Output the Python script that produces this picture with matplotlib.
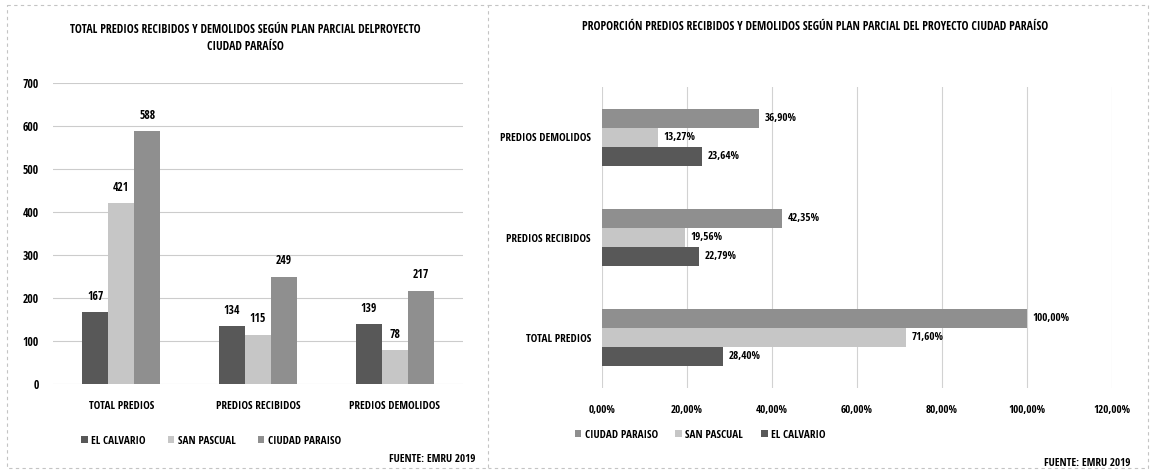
import numpy as np
import matplotlib.pyplot as plt
from matplotlib.lines import Line2D

plt.rcParams['font.family'] = ['Open Sans Condensed', 'Roboto Condensed', 'Lato', 'DejaVu Sans']
plt.rcParams['font.weight'] = 'heavy'

# Datos EMRU 2019
categorias = ['TOTAL PREDIOS', 'PREDIOS RECIBIDOS', 'PREDIOS DEMOLIDOS']
series = ['EL CALVARIO', 'SAN PASCUAL', 'CIUDAD PARAISO']
el_calvario = [167, 134, 139]
san_pascual = [421, 115, 78]
ciudad_paraiso = [588, 249, 217]

# Proporciones (%)
prop_el_calvario = [28.40, 22.79, 23.64]
prop_san_pascual = [71.60, 19.56, 13.27]
prop_ciudad_paraiso = [100.00, 42.35, 36.90]

colores = {'EL CALVARIO': '#585858', 'SAN PASCUAL': '#c6c6c6', 'CIUDAD PARAISO': '#8f8f8f'}

W, H = 1151, 472
fig = plt.figure(figsize=(W / 100, H / 100), dpi=100)
fig.patch.set_facecolor('white')

# marcos punteados de los dos graficos
for xs, ys in [([7, 488, 488, 7, 7], [5, 5, 468, 468, 5]),
               ([488, 1148, 1148, 488], [5, 5, 468, 468])]:
    fig.add_artist(Line2D(np.array(xs) / W, 1 - np.array(ys) / H, color='#c4c4c4',
                          lw=0.8, ls=(0, (3, 3)), transform=fig.transFigure))

# ---------- grafico de columnas ----------
ax1 = fig.add_axes([53 / W, 1 - 384 / H, 410 / W, 301 / H])
x = np.arange(len(categorias))
w = 0.19
for i, (nombre, vals) in enumerate(zip(series, [el_calvario, san_pascual, ciudad_paraiso])):
    b = ax1.bar(x + (i - 1) * w, vals, w, color=colores[nombre], label=nombre, zorder=3)
    for rect, v in zip(b, vals):
        ax1.text(rect.get_x() + rect.get_width() / 2, v + 22, str(v), ha='center',
                 va='bottom', fontsize=8.5)
ax1.set_ylim(0, 700)
ax1.set_xlim(-0.5, 2.5)
ax1.set_yticks(range(0, 701, 100))
ax1.set_xticks(x, categorias)
ax1.tick_params(length=0, labelsize=8)
ax1.tick_params(axis='y', pad=10, labelsize=8.5)
ax1.tick_params(axis='x', pad=12)
ax1.grid(axis='y', color='#cccccc', lw=0.8, zorder=0)
for s in ax1.spines.values():
    s.set_visible(False)
ax1.legend(loc='center', bbox_to_anchor=(211 / W, 1 - 441 / H), bbox_transform=fig.transFigure,
           ncol=3, frameon=False, fontsize=8, handlelength=0.6, handleheight=0.6,
           handletextpad=0.3, columnspacing=2.0)
fig.text(245 / W, 1 - 38 / H, 'TOTAL PREDIOS RECIBIDOS Y DEMOLIDOS SEGÚN PLAN PARCIAL DELPROYECTO\nCIUDAD PARAÍSO',
         ha='center', va='center', fontsize=8.5, linespacing=1.4)
fig.text(475 / W, 1 - 460 / H, 'FUENTE: EMRU 2019', ha='right', va='center', fontsize=8)

# ---------- grafico de barras horizontales ----------
ax2 = fig.add_axes([602 / W, 1 - 388 / H, 510 / W, 301 / H])
h = 0.19
for i, (nombre, vals) in enumerate(zip(series, [prop_el_calvario, prop_san_pascual, prop_ciudad_paraiso])):
    b = ax2.barh(x + (i - 1) * h, vals, h, color=colores[nombre], label=nombre, zorder=3)
    for rect, v in zip(b, vals):
        ax2.text(v + 1.3, rect.get_y() + rect.get_height() / 2,
                 f'{v:.2f}%'.replace('.', ','), ha='left', va='center', fontsize=8)
ax2.set_xlim(0, 120)
ax2.set_ylim(-0.5, 2.5)
ax2.set_xticks(range(0, 121, 20))
ax2.set_xticklabels([f'{t:.2f}%'.replace('.', ',') for t in range(0, 121, 20)])
ax2.set_yticks(x, categorias)
ax2.tick_params(length=0, labelsize=8)
ax2.tick_params(axis='y', pad=8)
ax2.tick_params(axis='x', pad=12)
ax2.grid(axis='x', color='#d2d2d2', lw=0.8, zorder=0)
for s in ax2.spines.values():
    s.set_visible(False)
hdl, lbl = ax2.get_legend_handles_labels()
ax2.legend(hdl[::-1], lbl[::-1], loc='center', bbox_to_anchor=(700 / W, 1 - 435 / H),
           bbox_transform=fig.transFigure, ncol=3, frameon=False, fontsize=8,
           handlelength=0.6, handleheight=0.6, handletextpad=0.3, columnspacing=1.6)
fig.text(582 / W, 1 - 27 / H,
         'PROPORCIÓN PREDIOS RECIBIDOS Y DEMOLIDOS SEGÚN PLAN PARCIAL DEL PROYECTO CIUDAD PARAÍSO',
         ha='left', va='center', fontsize=8.5)
fig.text(1130 / W, 1 - 464 / H, 'FUENTE: EMRU 2019', ha='right', va='center', fontsize=8)

fig.savefig('out.png', dpi=100, facecolor='white')
